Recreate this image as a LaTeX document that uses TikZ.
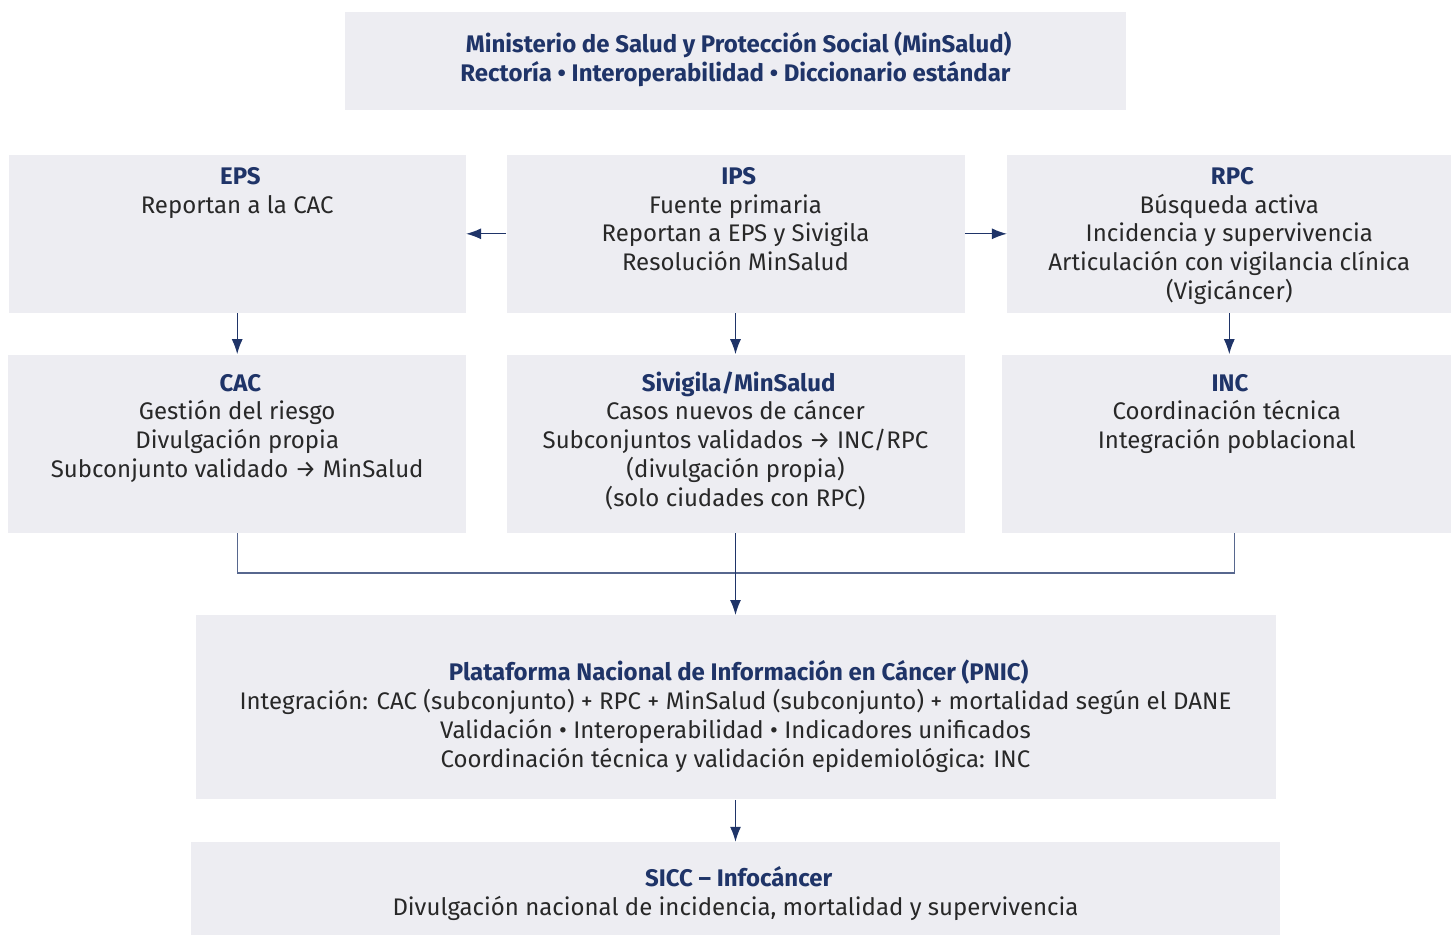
\documentclass[tikz,border=0pt]{standalone}
\usepackage{fontspec}
\setmainfont{Fira Sans}
\usetikzlibrary{arrows.meta, positioning}

\definecolor{boxgray}{RGB}{237,237,242}
\definecolor{navy}{RGB}{31,52,104}
\definecolor{ink}{RGB}{40,40,40}

% heading line in a box, and a box body with its text hung from the top
\newcommand{\cellhead}[1]{{\bfseries\color{navy}#1}}
\newcommand{\rowcell}[4]{\parbox[c][#1][t]{#2}{\centering\rule{0pt}{#3}#4}}

\begin{document}
\begin{tikzpicture}[
	cell/.style={fill=boxgray, inner sep=0pt, text=ink, font=\fontsize{12}{14.4}\selectfont},
	link/.style={draw=navy!75, line width=0.6pt},
	flow/.style={draw=navy, line width=0.65pt, -{Latex[length=7.5pt, width=5.5pt]}}]

\useasboundingbox (0,0) rectangle (725.5pt,467pt);

\node [cell] (minsalud) at (367.75pt,436.5pt) {\rowcell{49pt}{390.5pt}{20.25pt}{
	\cellhead{Ministerio de Salud y Protección Social (MinSalud)\\
	Rectoría • Interoperabilidad • Diccionario estándar}}};

\node [cell, below=22pt of minsalud] (ips) {\rowcell{79pt}{229pt}{14.75pt}{
	\cellhead{IPS}\\
	Fuente primaria\\
	Reportan a EPS y Sivigila\\
	Resolución MinSalud}};

\node [cell, left=20pt of ips] (eps) {\rowcell{79pt}{228.5pt}{14.75pt}{
	\cellhead{EPS}\\
	Reportan a la CAC}};

\node [cell, right=21pt of ips] (rpc) {\rowcell{79pt}{222pt}{14.75pt}{
	\cellhead{RPC}\\
	Búsqueda activa\\
	Incidencia y supervivencia\\
	Articulación con vigilancia clínica\\
	(Vigicáncer)}};

\node [cell, below=20.5pt of eps] (cac) {\rowcell{89pt}{229pt}{18.25pt}{
	\cellhead{CAC}\\
	Gestión del riesgo\\
	Divulgación propia\\
	Subconjunto validado → MinSalud}};

\node [cell, below=20.5pt of ips] (sivigila) {\rowcell{89pt}{229pt}{18.25pt}{
	\cellhead{Sivigila/MinSalud}\\
	Casos nuevos de cáncer\\
	Subconjuntos validados → INC/RPC\\
	(divulgación propia)\\
	(solo ciudades con RPC)}};

\node [cell, below=20.5pt of rpc.south east, anchor=north east] (inc) {\rowcell{89pt}{224.5pt}{18.25pt}{
	\cellhead{INC}\\
	Coordinación técnica\\
	Integración poblacional}};

\node [cell, below=41pt of sivigila] (pnic) {\rowcell{92pt}{540pt}{32.75pt}{
	\cellhead{Plataforma Nacional de Información en Cáncer (PNIC)}\\
	Integración: CAC (subconjunto) + RPC + MinSalud (subconjunto) + mortalidad según el DANE\\
	Validación • Interoperabilidad • Indicadores unificados\\
	Coordinación técnica y validación epidemiológica: INC}};

\node [cell, below=21pt of pnic] (sicc) {\rowcell{47.5pt}{544.5pt}{22.25pt}{
	\cellhead{SICC – Infocáncer}\\
	Divulgación nacional de incidencia, mortalidad y supervivencia}};

\coordinate [below=20pt of sivigila.south] (hub);

\draw [flow] (ips) -- (eps);
\draw [flow] (ips) -- (rpc);
\draw [flow] (eps) -- (eps.south |- cac.north);
\draw [flow] (ips) -- (sivigila);
\draw [flow] (rpc.south) -- (rpc.south |- inc.north);
\draw [link] (cac.south) |- (hub) -| ([xshift=4pt]inc.south);
\draw [flow] (sivigila.south) -- (sivigila.south |- pnic.north);
\draw [flow] (pnic) -- (pnic.south |- sicc.north);

\end{tikzpicture}
\end{document}
